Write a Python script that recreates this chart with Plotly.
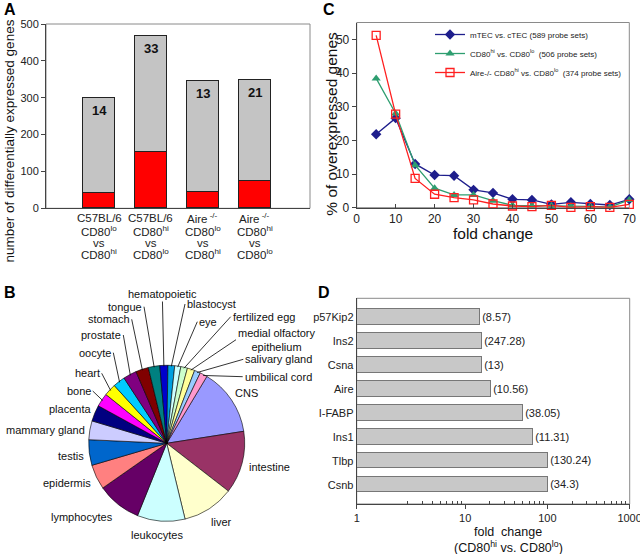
import math
import plotly.graph_objects as go

FONT = "Liberation Sans, Arial, sans-serif"
W, H = 640, 554

# ---- panel A data ----
a_groups = [
    ["C57BL/6", "CD80<sup>lo</sup>", "vs", "CD80<sup>hi</sup>"],
    ["C57BL/6", "CD80<sup>hi</sup>", "vs", "CD80<sup>lo</sup>"],
    ["Aire<sup> -/-</sup>", "CD80<sup>lo</sup>", "vs", "CD80<sup>hi</sup>"],
    ["Aire<sup> -/-</sup>", "CD80<sup>hi</sup>", "vs", "CD80<sup>lo</sup>"],
]
a_total = [300, 468, 345, 348]
a_red = [41, 153, 44, 73]
a_counts = ["14", "33", "13", "21"]

# ---- panel B data ----
b_tissues = ["CNS", "intestine", "liver", "leukocytes", "lymphocytes", "epidermis",
             "testis", "mammary gland", "placenta", "bone", "heart", "oocyte",
             "prostate", "stomach", "tongue", "hematopoietic", "blastocyst", "eye",
             "fertilized egg", "medial olfactory<br>epithelium", "salivary gland",
             "umbilical cord"]
b_share = [50, 46.5, 38.5, 35.5, 33, 18.5, 19, 14, 12, 10, 9, 9,
           10, 9.5, 8.5, 6, 5, 4.5, 5, 5.5, 4.5, 5.5]
b_colors = ["#9999FF", "#993366", "#FFFFCC", "#CCFFFF", "#660066", "#FF8080",
            "#0066CC", "#CCCCFF", "#000080", "#FF00FF", "#FFFF00", "#00CCFF",
            "#800080", "#800000", "#008080", "#0000CC", "#00A0E0", "#CCFFFF",
            "#CCFFCC", "#FFFF99", "#99CCFF", "#FF99CC"]

# ---- panel C data ----
c_fold = [5, 10, 15, 20, 25, 30, 35, 40, 45, 50, 55, 60, 65, 70]
c_mtec = [21.8, 26.6, 13.0, 9.7, 9.5, 5.3, 4.4, 2.5, 2.3, 1.0, 1.6, 1.1, 0.8, 2.5]
c_cd80 = [38.4, 28.0, 12.6, 5.8, 3.8, 3.8, 2.1, 0.7, 0.6, 0.6, 0.5, 0.4, 0.2, 2.3]
c_aire = [51.2, 27.8, 8.7, 4.0, 3.0, 2.3, 1.1, 0.5, 0.3, 0.7, 0.1, 0.3, 0.1, 1.0]

# ---- panel D data ----
d_genes = ["p57Kip2", "Ins2", "Csna", "Aire", "I-FABP", "Ins1", "Tlbp", "Csnb"]
d_fold = [14.8, 16.0, 16.0, 20.6, 50.5, 67, 100, 100]
d_labels = ["(8.57)", "(247.28)", "(13)", "(10.56)", "(38.05)", "(11.31)", "(130.24)", "(34.3)"]


def px(x):
    return x / W


def py(y):
    return 1 - y / H


fig = go.Figure()

# A: stacked bars
fig.add_trace(go.Bar(x=list(range(4)), y=a_red, marker=dict(color="#FF0000", line=dict(color="#222", width=1)),
                     width=0.615, xaxis="x", yaxis="y", showlegend=False))
fig.add_trace(go.Bar(x=list(range(4)), y=[t - r for t, r in zip(a_total, a_red)],
                     marker=dict(color="#C4C4C4", line=dict(color="#222", width=1)),
                     width=0.615, xaxis="x", yaxis="y", showlegend=False))
for i, (t, c) in enumerate(zip(a_total, a_counts)):
    fig.add_annotation(x=i, y=t, xref="x", yref="y", text="<b>%s</b>" % c, showarrow=False,
                       yanchor="top", yshift=-3, font=dict(size=13, color="#111", family=FONT))
# group labels under panel A, one row per line
for i, lines in enumerate(a_groups):
    for ln, ry in zip(lines, [218, 231, 243, 254]):
        fig.add_annotation(x=i, y=py(ry), xref="x", yref="paper", text=ln, showarrow=False,
                           xanchor="center", yanchor="middle", font=dict(size=11.5, color="#222", family=FONT))

# C: lines
fig.add_trace(go.Scatter(x=c_fold, y=c_mtec, mode="lines+markers", name="mTEC vs. cTEC (589 probe sets)",
                         line=dict(color="#1E1E8C", width=1.3),
                         marker=dict(symbol="diamond", size=8, color="#1E1E8C"),
                         xaxis="x2", yaxis="y2", cliponaxis=False))
fig.add_trace(go.Scatter(x=c_fold, y=c_cd80, mode="lines+markers",
                         name="CD80<sup>hi</sup> vs. CD80<sup>lo</sup>  (506 probe sets)",
                         line=dict(color="#2E9E70", width=1.3),
                         marker=dict(symbol="triangle-up", size=8, color="#2E9E70"),
                         xaxis="x2", yaxis="y2", cliponaxis=False))
fig.add_trace(go.Scatter(x=c_fold, y=c_aire, mode="lines+markers",
                         name="Aire-/- CD80<sup>hi</sup> vs. CD80<sup>lo</sup>  (374 probe sets)",
                         line=dict(color="#FF2020", width=1.3),
                         marker=dict(symbol="square-open", size=8, color="#FF2020", line=dict(width=1.3)),
                         xaxis="x2", yaxis="y2", cliponaxis=False))

# D: horizontal bars on log axis
fig.add_trace(go.Bar(y=d_genes, x=d_fold, orientation="h", text=d_labels, textposition="outside",
                     textfont=dict(size=11, color="#222", family=FONT), cliponaxis=False,
                     marker=dict(color="#C8C8C8", line=dict(color="#777", width=1)),
                     width=0.65, xaxis="x3", yaxis="y3", showlegend=False))

# B: pie
cx, cy, rad = 166.7, 443.3, 78
rot = 31
fig.add_trace(go.Pie(labels=b_tissues, values=b_share, sort=False, direction="clockwise", rotation=rot,
                     marker=dict(colors=b_colors, line=dict(color="#000", width=0.6)),
                     textinfo="none", hoverinfo="label", showlegend=False,
                     domain=dict(x=[px(cx - rad), px(cx + rad)], y=[py(cy + rad), py(cy - rad)])))

# pie labels: (text pos x, y, xanchor, leader line?)
pie_lab = {
    "CNS": (233.3, 392.7, "left", False),
    "intestine": (246.7, 466.7, "left", False),
    "liver": (221.7, 521.7, "center", False),
    "leukocytes": (156.7, 535, "center", False),
    "lymphocytes": (115, 517.3, "right", False),
    "epidermis": (93.3, 483.3, "right", False),
    "testis": (86, 455.7, "right", False),
    "mammary gland": (87.3, 430, "right", False),
    "placenta": (92.7, 409, "right", False),
    "bone": (92.7, 391, "right", True),
    "heart": (101.7, 373.3, "right", True),
    "oocyte": (113.3, 352.7, "right", True),
    "prostate": (123.3, 335, "right", True),
    "stomach": (131.7, 319.3, "right", True),
    "tongue": (144, 306.7, "right", True),
    "hematopoietic": (162.3, 294, "center", True),
    "blastocyst": (185, 304, "left", True),
    "eye": (197.3, 321.7, "left", True),
    "fertilized egg": (230.7, 316.7, "left", True),
    "medial olfactory<br>epithelium": (236, 339.7, "left", True),
    "salivary gland": (243.3, 359.3, "left", True),
    "umbilical cord": (242.7, 376.7, "left", True),
}
tot = sum(b_share)
cum = 0
for name, v in zip(b_tissues, b_share):
    mid = math.radians(rot + (cum + v / 2) / tot * 360)
    cum += v
    hx = cx + (rad - 1) * math.sin(mid)
    hy = cy - (rad - 1) * math.cos(mid)
    tx, ty, anc, line = pie_lab[name]
    f = dict(size=11, color="#111", family=FONT)
    if line:
        fig.add_annotation(x=px(hx), y=py(hy), xref="paper", yref="paper", text=name,
                           showarrow=True, arrowhead=0, arrowwidth=0.8, arrowcolor="#000",
                           ax=tx - hx, ay=ty - hy, xanchor=anc, yanchor="middle", align="center",
                           standoff=0, font=f)
    else:
        fig.add_annotation(x=px(tx), y=py(ty), xref="paper", yref="paper", text=name,
                           showarrow=False, xanchor=anc, yanchor="middle", font=f)

# panel letters and titles
for t, x, y in [("A", 2, 9), ("B", 2, 292), ("C", 321, 9), ("D", 316, 292)]:
    fig.add_annotation(x=px(x), y=py(y), xref="paper", yref="paper", text="<b>%s</b>" % t, showarrow=False,
                       xanchor="left", yanchor="middle", font=dict(size=16, color="#000", family=FONT))

titles = [
    ("number of differentially expressed genes", 9, 141.5, -90, 13.5),
    ("% of overexpressed genes", 331.7, 124, -90, 15.5),
    ("fold change", 493.3, 233, 0, 15.5),
    ("fold  change", 508, 532, 0, 12.5),
    ("(CD80<sup>hi</sup> vs. CD80<sup>lo</sup>)", 508, 547, 0, 12.5),
]
for t, x, y, ang, sz in titles:
    fig.add_annotation(x=px(x), y=py(y), xref="paper", yref="paper", text=t, textangle=ang,
                       showarrow=False, xanchor="center", yanchor="middle",
                       font=dict(size=sz, color="#111", family=FONT))

# gray plot frames
for xr, yr in [("x", "y"), ("x2", "y2"), ("x3", "y3")]:
    fig.add_shape(type="rect", xref=xr + " domain", yref=yr + " domain", x0=0, x1=1, y0=0, y1=1,
                  line=dict(color="#8A8A8A", width=1), layer="below")

tickf = dict(size=11, color="#222", family=FONT)
fig.update_layout(
    width=W, height=H, margin=dict(l=0, r=0, t=0, b=0, autoexpand=False),
    paper_bgcolor="white", plot_bgcolor="white", barmode="stack", bargap=0,
    font=dict(family=FONT, color="#111"),
    xaxis=dict(domain=[px(46), px(310)], range=[-1.02, 4.06], showticklabels=False,
               showline=True, linecolor="#444", ticks="",
               showgrid=False, zeroline=False, anchor="y"),
    yaxis=dict(domain=[py(208.3), py(24)], range=[0, 500], dtick=100, showline=True, linecolor="#444",
               ticks="outside", ticklen=4, tickcolor="#444", tickfont=tickf, showgrid=False, zeroline=False,
               anchor="x"),
    xaxis2=dict(domain=[px(356.7), px(629.3)], range=[0, 70], dtick=10, showline=True, linecolor="#444",
                ticks="inside", ticklen=4, tickcolor="#444", tickfont=dict(size=12, color="#222", family=FONT),
                showgrid=False, zeroline=False, anchor="y2"),
    yaxis2=dict(domain=[py(207.7), py(22.5)], range=[0, 55], tickvals=[0, 10, 20, 30, 40, 50], showline=True,
                linecolor="#444", ticks="outside", ticklen=4, tickcolor="#444",
                tickfont=dict(size=12, color="#222", family=FONT), showgrid=False, zeroline=False, anchor="x2"),
    xaxis3=dict(domain=[px(356.7), px(629.7)], type="log", range=[-0.32, 3.001],
                tickvals=[10 ** -0.32, 10, 100, 1000], ticktext=["1", "10", "100", "1000"],
                ticklabeloverflow="allow",
                showline=True, linecolor="#444", ticks="outside", ticklen=4, tickcolor="#444", tickfont=tickf,
                minor=dict(tickvals=[k * 10 ** e for e in range(3) for k in range(2, 10)],
                           ticks="inside", ticklen=3, tickcolor="#444"),
                showgrid=False, zeroline=False, anchor="y3"),
    yaxis3=dict(domain=[py(504), py(298.3)], range=[7.8, -0.8], showline=True, linecolor="#444", ticks="",
                tickfont=tickf, showgrid=False, zeroline=False, anchor="x3"),
    legend=dict(x=px(430), y=py(20), xanchor="left", yanchor="top", bgcolor="rgba(0,0,0,0)",
                traceorder="normal", font=dict(size=8, color="#222", family=FONT), tracegroupgap=2),
)

fig.write_html("out.html", config={"displayModeBar": False},
               post_script="document.body.style.margin='0';")
